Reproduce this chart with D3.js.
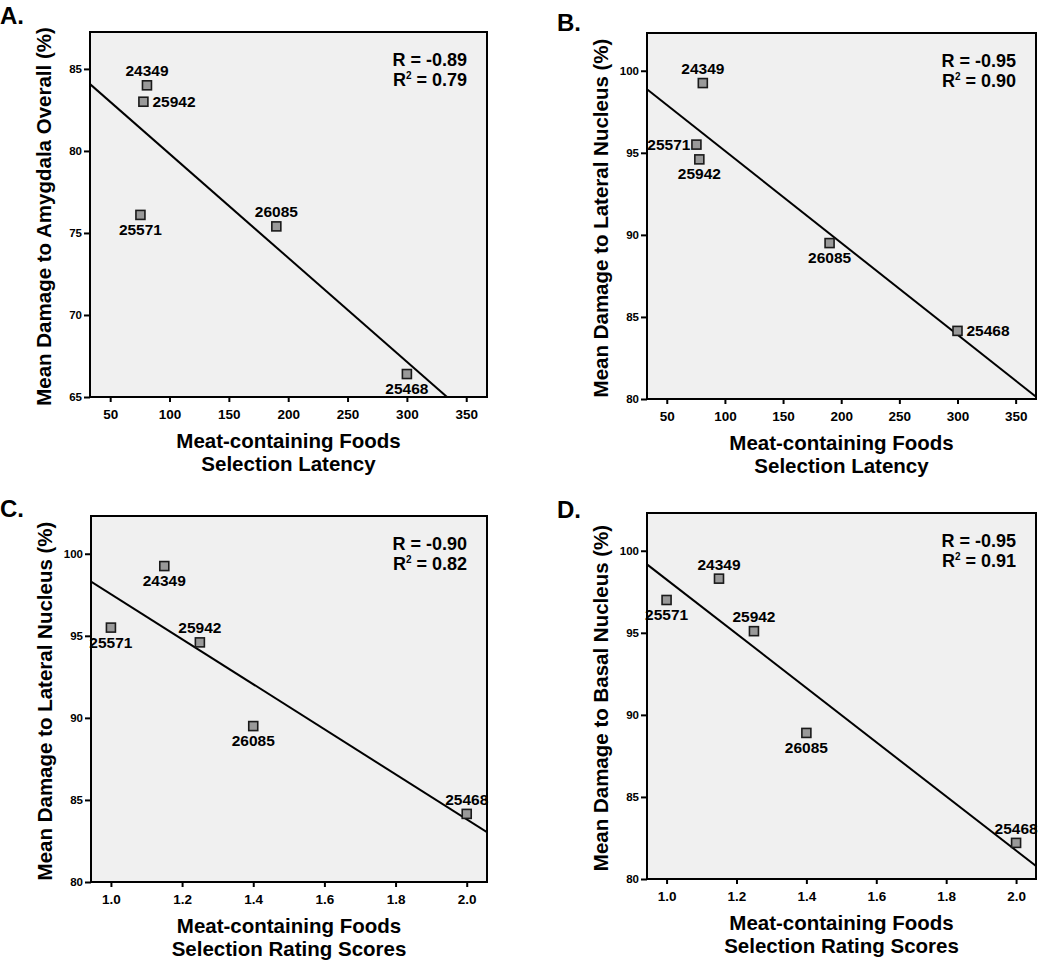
<!DOCTYPE html>
<html><head><meta charset="utf-8">
<script src="https://cdn.jsdelivr.net/npm/d3@7"></script>
<style>
body{margin:0;background:#fff}
text{font-family:"Liberation Sans",Arial,Helvetica,sans-serif;font-weight:bold;fill:#000}
</style>
</head><body>
<svg id="chart" width="1050" height="964"></svg>
<script>
// ---------- data ----------
const animals        = ["24349", "25942", "25571", "26085", "25468"];
const latency        = [81, 78, 75.5, 190, 300];
const ratingScores   = [1.15, 1.25, 1.0, 1.4, 2.0];
const damageOverall  = [84.0, 83.0, 76.1, 75.4, 66.4];
const damageLateral  = [99.25, 94.6, 95.5, 89.5, 84.15];
const damageBasal    = [98.3, 95.1, 97.0, 88.9, 82.2];

const latencyTicks   = [50, 100, 150, 200, 250, 300, 350];
const ratingTicks    = [1.0, 1.2, 1.4, 1.6, 1.8, 2.0];
const overallTicks   = [65, 70, 75, 80, 85];
const nucleusTicks   = [80, 85, 90, 95, 100];

const panelLetters   = ["A.", "B.", "C.", "D."];
const rValues        = ["-0.89", "-0.95", "-0.90", "-0.95"];
const r2Values       = ["0.79", "0.90", "0.82", "0.91"];
const xTitlesLine1   = ["Meat-containing Foods", "Meat-containing Foods", "Meat-containing Foods", "Meat-containing Foods"];
const xTitlesLine2   = ["Selection Latency", "Selection Latency", "Selection Rating Scores", "Selection Rating Scores"];
const yTitles        = ["Mean Damage to Amygdala Overall (%)", "Mean Damage to Lateral Nucleus (%)",
                        "Mean Damage to Lateral Nucleus (%)", "Mean Damage to Basal Nucleus (%)"];
// label placement relative to each marker (same order as animals)
const labelSides = [
  ["above", "right", "below", "above", "below"],
  ["above", "below", "left",  "below", "right"],
  ["below", "above", "below", "below", "above"],
  ["above", "above", "below", "below", "above"]
];

// ---------- layout ----------
const frames = [
  {left: 90,  top: 32,  right: 487,  bottom: 397, lx: 0,   ly: 24},
  {left: 647, top: 33,  right: 1036, bottom: 399, lx: 557, ly: 31},
  {left: 91,  top: 516, right: 487,  bottom: 882, lx: 0,   ly: 517},
  {left: 647, top: 513, right: 1036, bottom: 879, lx: 557, ly: 518}
];

const panels = [
  {xs: latency,      ys: damageOverall, xTicks: latencyTicks, yTicks: overallTicks, xDom: [33, 367.5],  yDom: [65, 87.25], xFmt: d3.format("d")},
  {xs: latency,      ys: damageLateral, xTicks: latencyTicks, yTicks: nucleusTicks, xDom: [33, 367.5],  yDom: [80, 102.3], xFmt: d3.format("d")},
  {xs: ratingScores, ys: damageLateral, xTicks: ratingTicks,  yTicks: nucleusTicks, xDom: [0.944, 2.057], yDom: [80, 102.3], xFmt: d3.format(".1f")},
  {xs: ratingScores, ys: damageBasal,   xTicks: ratingTicks,  yTicks: nucleusTicks, xDom: [0.944, 2.057], yDom: [80, 102.3], xFmt: d3.format(".1f")}
];

const svg = d3.select("#chart");
const FONT = '"Liberation Sans",Arial,Helvetica,sans-serif';

function linreg(xs, ys) {
  const mx = d3.mean(xs), my = d3.mean(ys);
  let sxy = 0, sxx = 0;
  xs.forEach((x, i) => { sxy += (x - mx) * (ys[i] - my); sxx += (x - mx) * (x - mx); });
  const b = sxy / sxx;
  return {b, a: my - b * mx};
}

panels.forEach((p, pi) => {
  const f = frames[pi];
  const g = svg.append("g");
  const x = d3.scaleLinear().domain(p.xDom).range([f.left, f.right]);
  const y = d3.scaleLinear().domain(p.yDom).range([f.bottom, f.top]);

  g.append("rect").attr("x", f.left).attr("y", f.top)
    .attr("width", f.right - f.left).attr("height", f.bottom - f.top)
    .attr("fill", "#f0f0f0");

  const cid = "clip" + pi;
  svg.append("clipPath").attr("id", cid).append("rect")
    .attr("x", f.left).attr("y", f.top).attr("width", f.right - f.left).attr("height", f.bottom - f.top);

  const {a, b} = linreg(p.xs, p.ys);
  g.append("line").attr("clip-path", `url(#${cid})`)
    .attr("x1", x(p.xDom[0])).attr("y1", y(a + b * p.xDom[0]))
    .attr("x2", x(p.xDom[1])).attr("y2", y(a + b * p.xDom[1]))
    .attr("stroke", "#000").attr("stroke-width", 2);

  const xAxis = d3.axisBottom(x).tickValues(p.xTicks).tickFormat(p.xFmt).tickSize(5).tickPadding(7);
  const gx = g.append("g").attr("transform", `translate(0,${f.bottom})`).call(xAxis);
  gx.select(".domain").remove();
  gx.selectAll(".tick line").attr("stroke", "#000").attr("stroke-width", 2);
  gx.selectAll(".tick text").attr("fill", "#000")
    .style("font-size", "13.5px").style("font-family", FONT).style("font-weight", "bold");

  const yAxis = d3.axisLeft(y).tickValues(p.yTicks).tickFormat(d3.format("d")).tickSize(6).tickPadding(2);
  const gy = g.append("g").attr("transform", `translate(${f.left},0)`).call(yAxis);
  gy.select(".domain").remove();
  gy.selectAll(".tick line").attr("stroke", "#000").attr("stroke-width", 2);
  gy.selectAll(".tick text").attr("fill", "#000")
    .style("font-size", "11.5px").style("font-family", FONT).style("font-weight", "bold");

  g.append("rect").attr("x", f.left).attr("y", f.top)
    .attr("width", f.right - f.left).attr("height", f.bottom - f.top)
    .attr("fill", "none").attr("stroke", "#000").attr("stroke-width", 2);

  const pts = animals.map((id, i) => ({id, xv: p.xs[i], yv: p.ys[i], side: labelSides[pi][i]}));
  g.selectAll("rect.pt").data(pts).enter().append("rect").attr("class", "pt")
    .attr("x", d => x(d.xv) - 4.5).attr("y", d => y(d.yv) - 4.5)
    .attr("width", 9).attr("height", 9)
    .attr("fill", "#999999").attr("stroke", "#1a1a1a").attr("stroke-width", 1.6);

  g.selectAll("text.lbl").data(pts).enter().append("text").attr("class", "lbl")
    .style("font-size", "15.5px")
    .attr("x", d => {
      const cx = x(d.xv);
      if (d.side === "right") return cx + 9;
      if (d.side === "left") return cx - 6;
      return cx;
    })
    .attr("y", d => {
      const cy = y(d.yv);
      if (d.side === "above") return cy - 9;
      if (d.side === "below") return cy + 20;
      return cy + 5.5;
    })
    .attr("text-anchor", d => d.side === "right" ? "start" : d.side === "left" ? "end" : "middle")
    .text(d => d.id);

  const rx = f.right - 20;
  g.append("text").attr("x", rx).attr("y", f.top + 34).attr("text-anchor", "end")
    .style("font-size", "18px").text("R = " + rValues[pi]);
  const t2 = g.append("text").attr("x", rx).attr("y", f.top + 54).attr("text-anchor", "end")
    .style("font-size", "18px");
  t2.append("tspan").text("R");
  t2.append("tspan").style("font-size", "10px").attr("dy", -7).text("2");
  t2.append("tspan").attr("dy", 7).text(" = " + r2Values[pi]);

  const cxm = (f.left + f.right) / 2;
  g.append("text").attr("x", cxm).attr("y", f.bottom + 51).attr("text-anchor", "middle")
    .style("font-size", "20.5px").text(xTitlesLine1[pi]);
  g.append("text").attr("x", cxm).attr("y", f.bottom + 74).attr("text-anchor", "middle")
    .style("font-size", "20.5px").text(xTitlesLine2[pi]);
  const cym = (f.top + f.bottom) / 2 + 2;
  g.append("text").attr("transform", `translate(${f.left - 39},${cym}) rotate(-90)`)
    .attr("text-anchor", "middle").style("font-size", "20.5px").text(yTitles[pi]);

  g.append("text").attr("x", f.lx).attr("y", f.ly).style("font-size", "24px").text(panelLetters[pi]);
});
</script>
</body></html>
